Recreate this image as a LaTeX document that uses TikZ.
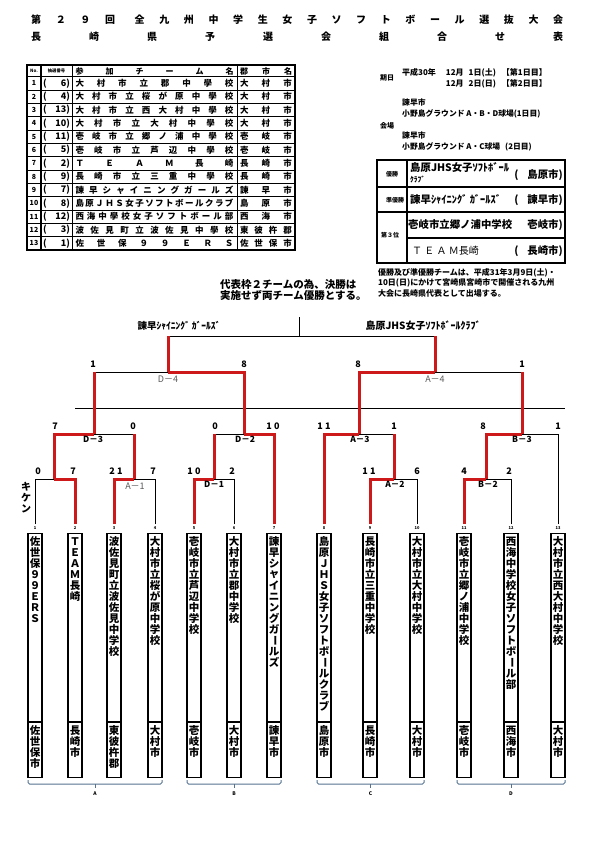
\documentclass[tikz,border=0pt]{standalone}
\usepackage{fontspec}
\usepackage{graphicx}
\setmainfont{Noto Sans CJK JP}
\usetikzlibrary{calc}
\definecolor{wred}{RGB}{205,25,25}
\definecolor{grpblue}{RGB}{85,115,145}
\definecolor{lblgray}{RGB}{90,90,90}
\newcommand\fsz[1]{\fontsize{#1}{#1}\selectfont}
\ExplSyntaxOn
\tl_new:N \l_vt_tl
\NewDocumentCommand\vt{O{11pt}m}{
  \tl_set:Nx \l_vt_tl {#2}
  \vbox{\offinterlineskip
    \tl_map_inline:Nn \l_vt_tl {
      \hbox to 14pt {\hss \vbox to #1 {\vss \hbox{\str_if_eq:nnTF{##1}{ー}{\rotatebox[origin=c]{-90}{ー}}{##1}} \vss} \hss}
    }
  }
}
\ExplSyntaxOff
\begin{document}
\begin{tikzpicture}[x=1pt,y=-1pt,font=\bfseries,
  bk/.style={line width=1pt,black},
  rd/.style={line width=3pt,wred},
  sc/.style={font=\fsz{9}\bfseries,inner sep=0pt,anchor=south},
  mlb/.style={font=\fsz{8.5}\bfseries,inner sep=0pt,anchor=north},
  mlg/.style={font=\fsz{9},text=lblgray,inner sep=0pt,anchor=north},
  tbox/.style={draw,line width=1.3pt,minimum width=14pt,minimum height=244pt,anchor=north,inner sep=0pt},
  vtx/.style={font=\fsz{10.5}\bfseries,inner sep=0pt,anchor=north},
  cell/.style={inner sep=0pt,font=\fsz{8.5}\bfseries},
  info/.style={font=\fsz{8}\bfseries,inner sep=0pt,anchor=west},
  res/.style={font=\fsz{10.4}\bfseries,inner sep=0pt},
  grp/.style={grpblue,line width=1pt}]
\fill[white] (0,0) rectangle (595,842);
\useasboundingbox (0,0) rectangle (595,842);

% ---------- title ----------
\node[inner sep=0pt,font=\fsz{10}\bfseries,anchor=west] (ttl1) at (31,20) {\makebox[532pt][s]{第 ２ ９ 回 \hspace{5pt}全 九 州 中 学 生 女 子 ソ フ ト ボ ー ル 選 抜 大 会}};
\node[inner sep=0pt,font=\fsz{10}\bfseries,anchor=west] (ttl2) at (31,37) {\makebox[532pt][s]{長 崎 県 予 選 会 組 合 せ 表}};

% ---------- entry table ----------
\draw[line width=1.6pt] (27,65) rectangle (295,250);
\draw[line width=1.4pt] (27,76.67) -- (295,76.67);
\foreach \k in {1,...,12} \draw[line width=0.8pt] (27,{76.67+\k*13.33}) -- (295,{76.67+\k*13.33});
\draw[line width=1.6pt] (41,65) -- (41,250);
\draw[line width=0.8pt] (72,65) -- (72,250);
\draw[line width=1pt] (237,65) -- (237,250);
\node[inner sep=0pt,font=\fsz{4.5}\bfseries] (hno) at (34,71) {No.};
\node[inner sep=0pt,font=\fsz{4.3}\bfseries] (hdr) at (56.5,71) {抽選番号};
\node[inner sep=0pt,font=\fsz{8}\bfseries] (htm) at (154.5,71) {\makebox[158pt][s]{参 加 チ ー ム 名}};
\node[inner sep=0pt,font=\fsz{8}\bfseries] (hgc) at (266,71) {\makebox[52pt][s]{郡 市 名}};
\foreach \n/\dn/\tm/\gc in {
 1/6/{大 村 市 立 郡 中 學 校}/{大 村 市},
 2/4/{大 村 市 立 桜 が 原 中 學 校}/{大 村 市},
 3/13/{大 村 市 立 西 大 村 中 學 校}/{大 村 市},
 4/10/{大 村 市 立 大 村 中 學 校}/{大 村 市},
 5/11/{壱 岐 市 立 郷 ノ 浦 中 學 校}/{壱 岐 市},
 6/5/{壱 岐 市 立 芦 辺 中 學 校}/{壱 岐 市},
 7/2/{Ｔ Ｅ Ａ Ｍ 長 崎}/{長 崎 市},
 8/9/{長 崎 市 立 三 重 中 學 校}/{長 崎 市},
 9/7/{諫 早 シ ャ イ ニ ン グ ガ ー ル ズ}/{諫 早 市},
 10/8/{島 原 Ｊ Ｈ Ｓ 女 子 ソ フ ト ボ ー ル ク ラ ブ}/{島 原 市},
 11/12/{西 海 中 學 校 女 子 ソ フ ト ボ ー ル 部}/{西 海 市},
 12/3/{波 佐 見 町 立 波 佐 見 中 學 校}/{東 彼 杵 郡},
 13/1/{佐 世 保 ９ ９ Ｅ Ｒ Ｓ}/{佐 世 保 市}}{
  \pgfmathsetmacro\yy{83.33+(\n-1)*13.33}
  \node[cell,font=\fsz{7}\bfseries] (no\n) at (34,\yy) {\n};
  \node[cell,font=\fsz{9}\bfseries] (dr\n) at (56.5,\yy) {\makebox[27pt][s]{(\hfill\dn)}};
  \node[cell] (tm\n) at (154.5,\yy) {\makebox[158pt][s]{\tm}};
  \node[cell] (gc\n) at (266,\yy) {\makebox[52pt][s]{\gc}};
}

% ---------- dates / venue ----------
\node[info,font=\fsz{7}\bfseries] (kijitsu) at (380,78) {期日};
\node[info,align=left] (date) at (402,78.5) {平成30年\hspace{10pt}12月\hspace{5pt}1日(土)\hspace{6pt}【第1日目】\\[1.5pt]\phantom{平成30年\hspace{10pt}}12月\hspace{5pt}2日(日)\hspace{6pt}【第2日目】};
\node[info,font=\fsz{7.8}\bfseries] (v1a) at (402,103) {諫早市};
\node[info,font=\fsz{7.8}\bfseries] (v1b) at (402,113.5) {小野島グラウンド A・B・D球場(1日目)};
\node[info,font=\fsz{7}\bfseries] (kaijo) at (380,126) {会場};
\node[info,font=\fsz{7.8}\bfseries] (v2a) at (402,136) {諫早市};
\node[info,font=\fsz{7.8}\bfseries] (v2b) at (402,146.5) {小野島グラウンド A・C球場\hspace{5pt}(2日目)};

% ---------- results ----------
\draw[line width=1.3pt] (377,160) rectangle (565,263);
\draw[line width=1.1pt] (407,160) -- (407,263);
\draw[line width=1.1pt] (377,187) -- (565,187);
\draw[line width=1.1pt] (377,212) -- (565,212);
\draw[line width=1.1pt] (407,238) -- (565,238);
\node[inner sep=0pt,font=\fsz{6}\bfseries] (r1l) at (392,174) {優勝};
\node[inner sep=0pt,font=\fsz{6}\bfseries] (r2l) at (395,200) {準優勝};
\node[inner sep=0pt,font=\fsz{6}\bfseries] (r3l) at (390,235) {第３位};
\node[res,anchor=west] (r1a) at (410,168) {島原JHS女子ｿﾌﾄﾎﾞｰﾙ};
\node[res,anchor=west,font=\fsz{7.5}\bfseries] (r1b) at (410,180) {ｸﾗﾌﾞ};
\node[res,anchor=east] (r1c) at (563,175) {(\hspace{9pt}島原市)};
\node[res,anchor=west] (r2a) at (410,200) {諫早ｼｬｲﾆﾝｸﾞ ｶﾞｰﾙｽﾞ};
\node[res,anchor=east] (r2c) at (563,200) {(\hspace{9pt}諫早市)};
\node[res,anchor=west] (r3a) at (408,225) {壱岐市立郷ノ浦中学校};
\node[res,anchor=east] (r3c) at (563,225) {壱岐市)};
\node[res,anchor=west,font=\fsz{10}] (r4a) at (412,251) {Ｔ Ｅ Ａ Ｍ長崎};
\node[res,anchor=east] (r4c) at (563,251) {(\hspace{9pt}長崎市)};

% ---------- notes ----------
\node[info] (n1) at (378,273) {優勝及び準優勝チームは、平成31年3月9日(土)・};
\node[info] (n2) at (378,283) {10日(日)にかけて宮崎県宮崎市で開催される九州};
\node[info] (n3) at (378,293) {大会に長崎県代表として出場する。};
\node[inner sep=0pt,anchor=west,font=\fsz{10.5}\bfseries,align=left] (mid) at (220,290) {代表枠２チームの為、決勝は\\[0.5pt]実施せず両チーム優勝とする。};

% ---------- team boxes ----------
\foreach \i/\x/\nm/\ct in {
 1/35/{佐世保９９ＥＲＳ}/{佐世保市},
 2/75/{ＴＥＡＭ長崎}/{長崎市},
 3/114/{波佐見町立波佐見中学校}/{東彼杵郡},
 4/155/{大村市立桜が原中学校}/{大村市},
 5/194/{壱岐市立芦辺中学校}/{壱岐市},
 6/234/{大村市立郡中学校}/{大村市},
 7/274/{諫早シャイニングガールズ}/{諫早市},
 8/324/{島原ＪＨＳ女子ソフトボールクラブ}/{島原市},
 9/370/{長崎市立三重中学校}/{長崎市},
 10/417/{大村市立大村中学校}/{大村市},
 11/464/{壱岐市立郷ノ浦中学校}/{壱岐市},
 12/511/{西海中学校女子ソフトボール部}/{西海市},
 13/558/{大村市立西大村中学校}/{大村市}}{
  \node[tbox] (t\i) at (\x,533) {};
  \draw[line width=1.1pt] (\x-7,722) -- (\x+7,722);
  \node[vtx] (tn\i) at (\x,536) {\vt{\nm}};
  \node[vtx] (tc\i) at (\x,725) {\vt{\ct}};
  \node[font=\fsz{4}\bfseries,inner sep=0pt] (tnum\i) at (\x,528.5) {\i};
  \coordinate (p\i) at (\x,524);
}
\node[inner sep=0pt,font=\fsz{10}\bfseries,anchor=north] (kiken) at (26,481) {\vt[11pt]{キケン}};

% ---------- group brackets ----------
\foreach \a/\b/\gl in {28/162/A,187/281/B,317/424/C,457/565/D}{
  \draw[grp,rounded corners=1.5pt] (\a,780) -- (\a,784) -- (\b,784) -- (\b,780);
  \draw[grp] ({(\a+\b)/2},784) -- ({(\a+\b)/2},788);
  \node[font=\fsz{5}\bfseries,inner sep=0pt] (g\gl) at ({(\a+\b)/2},794) {\gl};
}

% ---------- match points ----------
\coordinate (m1) at (54,479);
\coordinate (mA1) at (134,479);
\coordinate (mD3) at (94,434);
\coordinate (mD1) at (214,479);
\coordinate (mD2) at (244,434);
\coordinate (mD4) at (168,372);
\coordinate (mA2) at (394,479);
\coordinate (mA3) at (359,434);
\coordinate (mB2) at (486,479);
\coordinate (mB3) at (522,434);
\coordinate (mA4) at (435,372);
\coordinate (fin) at (299,336);
\coordinate (fintop) at (299,317);
\coordinate (sepL) at (75,408);
\coordinate (sepR) at (565,408);

% black (losing) lines
\draw[bk] (p1) |- (m1);
\draw[bk] (p4) |- (mA1);
\draw[bk] (mA1 |- mD3) -- (mD3);
\draw[bk] (p6) |- (mD1);
\draw[bk] (mD1 |- mD2) -- (mD2);
\draw[bk] (mD3 |- mD4) -- (mD4);
\draw[bk] (p10) |- (mA2);
\draw[bk] (mA2 |- mA3) -- (mA3);
\draw[bk] (p12) |- (mB2);
\draw[bk] (p13) |- (mB3);
\draw[bk] (mB3 |- mA4) -- (mA4);
\draw[bk] (mD4 |- fin) -- (mA4 |- fin);
\draw[bk] (fin) -- (fintop);
\draw[bk] (sepL) -- (sepR);

% red (winning) lines
\draw[rd] (p2) |- (m1);
\draw[rd] (p3) |- (mA1);
\draw[rd] (m1) |- (mD3);
\draw[rd] (mA1) -- (mA1 |- mD3);
\draw[rd] (p5) |- (mD1);
\draw[rd] (p7) |- (mD2);
\draw[rd] (mD1) -- (mD1 |- mD2);
\draw[rd] (mD2) |- (mD4);
\draw[rd] (mD3) -- (mD3 |- mD4);
\draw[rd] (mD4) -- (mD4 |- fin);
\draw[rd] (p8) |- (mA3);
\draw[rd] (p9) |- (mA2);
\draw[rd] (mA2) -- (mA2 |- mA3);
\draw[rd] (mA3) |- (mA4);
\draw[rd] (p11) |- (mB2);
\draw[rd] (mB2) |- (mB3);
\draw[rd] (mB3) -- (mB3 |- mA4);
\draw[rd] (mA4) -- (mA4 |- fin);

% final labels
\node[inner sep=0pt,font=\fsz{9.5}\bfseries] (finL) at (179,326) {諫早ｼｬｲﾆﾝｸﾞ ｶﾞｰﾙｽﾞ};
\node[inner sep=0pt,font=\fsz{10}\bfseries] (finR) at (423,326) {島原JHS女子ｿﾌﾄﾎﾞｰﾙｸﾗﾌﾞ};

% match labels
\node[mlg] (lD4) at (168,375.5) {D－4};
\node[mlg] (lA4) at (435,375.5) {A－4};
\node[mlg] (lA1) at (135,483) {A－1};
\node[mlb] (lD3) at (93,435.5) {D－3};
\node[mlb] (lD2) at (245,435.5) {D－2};
\node[mlb] (lD1) at (214,480.5) {D－1};
\node[mlb] (lA3) at (360,435.5) {A－3};
\node[mlb] (lA2) at (395,480.5) {A－2};
\node[mlb] (lB3) at (522,435.5) {B－3};
\node[mlb] (lB2) at (488,480.5) {B－2};

% scores
\node[sc] at (38,475) {0};   \node[sc] at (73,475) {7};
\node[sc] at (116,475) {2 1}; \node[sc] at (153,475) {7};
\node[sc] at (55,430) {7};   \node[sc] at (133,430) {0};
\node[sc] at (194,475) {1 0}; \node[sc] at (232,475) {2};
\node[sc] at (215,430) {0};  \node[sc] at (273,430) {1 0};
\node[sc] at (93,368) {1};   \node[sc] at (244,368) {8};
\node[sc] at (324,430) {1 1}; \node[sc] at (394,430) {1};
\node[sc] at (369,475) {1 1}; \node[sc] at (417,475) {6};
\node[sc] at (483,430) {8};  \node[sc] at (558,430) {1};
\node[sc] at (464,475) {4};  \node[sc] at (509,475) {2};
\node[sc] at (358,368) {8};  \node[sc] at (522,368) {1};
\end{tikzpicture}
\end{document}
